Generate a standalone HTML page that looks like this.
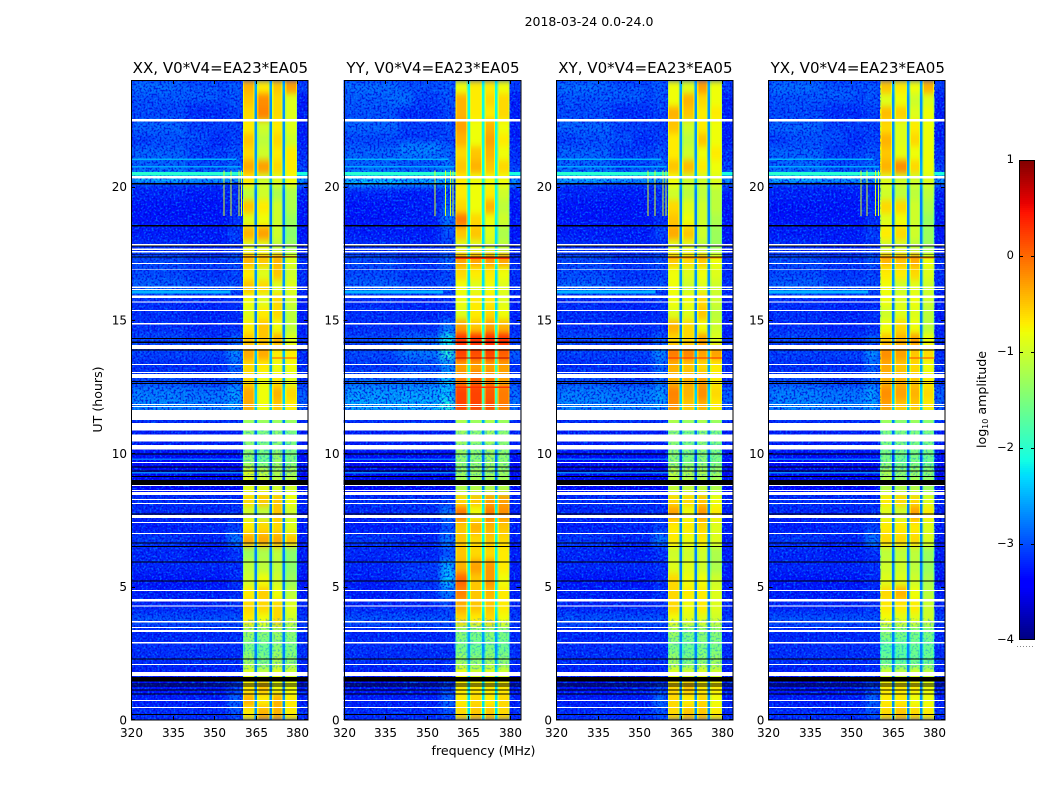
<!DOCTYPE html>
<html lang="en">
<head>
<meta charset="utf-8">
<title>2018-03-24 dynamic spectra</title>
<style>
html,body{margin:0;padding:0;background:#fff;}
#stage{display:block;width:1050px;height:800px;}
text{font-family:"DejaVu Sans","Liberation Sans",sans-serif;fill:#000;}
</style>
</head>
<body>
<svg id="stage" xmlns="http://www.w3.org/2000/svg" width="1050" height="800" viewBox="0 0 1050 800">
<defs>
<filter id="bg-smooth" x="-5%" y="-5%" width="110%" height="110%" color-interpolation-filters="sRGB">
<feGaussianBlur stdDeviation="3 3.2"/>
</filter>
<filter id="cell-smooth" x="-2%" y="-2%" width="104%" height="104%" color-interpolation-filters="sRGB">
<feGaussianBlur stdDeviation="0 3.2"/>
</filter>
<filter id="speckle-dark" x="0" y="0" width="100%" height="100%" color-interpolation-filters="sRGB">
<feTurbulence type="fractalNoise" baseFrequency="0.5" numOctaves="1" seed="4"/>
<feColorMatrix type="matrix" values="0 0 0 0 0  0 0 0 0 0  0 0 0 0 0.84  5 0 0 0 -2.3"/>
</filter>
<filter id="speckle-light" x="0" y="0" width="100%" height="100%" color-interpolation-filters="sRGB">
<feTurbulence type="fractalNoise" baseFrequency="0.5" numOctaves="1" seed="11"/>
<feColorMatrix type="matrix" values="0 0 0 0 0  0 0 0 0 0.5  0 0 0 0 1  5 0 0 0 -2.4"/>
</filter>
</defs>
<text x="589" y="26" font-size="12.5" text-anchor="middle">2018-03-24 0.0-24.0</text>
<text x="483.5" y="755" font-size="12.6" text-anchor="middle">frequency (MHz)</text>
<text x="0" y="0" font-size="12.6" text-anchor="middle" transform="translate(102,399.5) rotate(-90)">UT (hours)</text>
<text x="0" y="0" font-size="12.6" text-anchor="middle" transform="translate(986,399.5) rotate(-90)">log<tspan font-size="8" dy="2">10</tspan><tspan dy="-2"> amplitude</tspan></text>
<g id="panels"></g>
<g id="colorbar"></g>
</svg>
<script>
// ---------- axis tick labels ----------
const freqTicks = [320, 335, 350, 365, 380];
const utTicks = [0, 5, 10, 15, 20];
const cbarTicks = [1, 0, -1, -2, -3, -4];
// frequency bin edges (MHz): bg-left, bg-mid, bg-edge, band1, gap1, band2, gap2, band3, gap3, band4, bg-right
const freqEdges = [320, 340, 355, 360.4, 364.7, 365.6, 370.1, 371, 374.8, 375.7, 380, 384];
const timeBinHours = 0.5;
// band roll-off next to the gaps
const bandEdgeMHz = 0.45;
const bandEdgeDrop = 0.3;
// level calibration applied to background cells and gaps
const BG_OFFSET = -0.15;

// ---------- log10 amplitude per time bin, top row = 23.5-24 h ----------
// band levels [band1, band2, band3, band4]
const bandsXX = [
[-0.4,-0.7,-0.5,-0.3],[-0.5,-0.2,-0.6,-0.9],[-0.6,-0.15,-0.6,-0.9],[-0.7,-1.0,-0.7,-0.9],
[-0.5,-1.1,-0.6,-1.0],[-0.6,-1.0,-0.7,-0.7],[-0.35,-0.3,-0.6,-0.7],[-0.7,-1.0,-0.9,-0.8],
[-1.1,-1.0,-1.2,-1.2],[-0.5,-0.7,-1.0,-1.2],[-0.9,-0.8,-1.0,-1.3],[-0.4,-0.3,-1.0,-1.4],
[-0.9,-0.9,-1.1,-1.3],[-0.4,-0.5,-0.4,-0.9],[-0.7,-0.9,-0.5,-1.0],[-0.5,-0.6,-0.9,-0.9],
[-0.8,-0.9,-0.6,-1.0],[-0.9,-0.7,-0.6,-1.1],[-0.7,-0.5,-0.8,-1.1],[-0.5,-0.5,-0.4,-0.9],
[-0.35,-0.35,-0.7,-0.7],[-0.6,-0.7,-0.8,-0.8],[-0.6,-0.8,-0.7,-0.9],[-0.35,-0.8,-0.4,-0.6],
[-0.35,-0.8,-0.5,-0.7],[-1.3,-1.3,-1.3,-1.3],[-1.4,-1.5,-1.4,-1.5],[-1.4,-1.5,-1.4,-1.5],
[-1.4,-1.6,-1.3,-1.5],[-0.9,-1.1,-1.2,-1.2],[-0.9,-0.9,-1.0,-1.0],[-0.6,-0.5,-0.5,-0.8],
[-1.0,-1.1,-0.5,-1.0],[-0.7,-0.6,-0.6,-0.9],[-0.35,-0.35,-0.35,-0.5],[-1.3,-1.2,-1.1,-1.4],
[-1.1,-1.1,-1.1,-1.4],[-1.0,-0.8,-1.0,-1.3],[-0.7,-0.55,-0.8,-1.1],[-0.6,-0.6,-0.6,-0.9],
[-0.7,-0.8,-0.6,-1.0],[-1.3,-1.4,-1.3,-1.4],[-1.5,-1.6,-1.4,-1.5],[-1.3,-1.5,-1.2,-1.4],
[-0.9,-1.1,-0.9,-1.0],[-0.7,-0.5,-0.8,-0.8],[-0.4,-0.7,-0.4,-0.7],[-0.7,-0.4,-0.4,-0.7]
];
const bandsYY = [
[-0.8,-0.7,-0.7,-0.8],[-0.4,-0.7,-0.6,-0.6],[-0.4,-0.7,-0.7,-0.6],[-0.3,-0.8,-0.4,-0.8],
[-0.4,-0.8,-0.3,-0.7],[-0.6,-0.5,-0.4,-0.8],[-0.5,-0.4,-0.5,-0.6],[-0.7,-0.8,-0.8,-0.8],
[-0.7,-0.8,-0.7,-1.0],[-0.6,-0.8,-0.4,-1.1],[-0.1,-0.6,-0.8,-1.0],[-0.5,-0.5,-0.9,-1.2],
[-0.9,-0.9,-1.0,-1.1],[-0.3,-0.3,-0.25,-0.3],[-0.6,-0.7,-0.7,-0.8],[-0.8,-0.9,-0.8,-0.9],
[-0.8,-0.7,-0.7,-0.9],[-0.9,-0.7,-0.6,-0.8],[-0.3,-0.5,-0.3,-0.4],[0.3,0.3,0.35,0.3],
[0.2,0.15,0.2,0.05],[-0.3,-0.3,-0.3,-0.3],[-0.1,0.05,-0.1,-0.3],[0.2,0.2,0.1,-0.1],
[0.2,0.2,0.15,-0.1],[-1.2,-1.3,-1.2,-1.3],[-1.3,-1.4,-1.3,-1.4],[-1.3,-1.4,-1.3,-1.4],
[-1.4,-1.4,-1.3,-1.4],[-1.3,-1.3,-1.3,-1.3],[-1.2,-1.2,-1.2,-1.2],[-0.6,-0.5,-0.3,-0.3],
[-0.1,-0.8,-0.1,-0.2],[-0.5,-0.4,-0.4,-0.5],[-0.5,-0.6,-0.5,-0.6],[-0.5,-0.6,-0.6,-0.7],
[-0.4,-0.3,-0.25,-0.7],[0.0,-0.5,-0.25,-0.8],[-0.15,-0.5,-0.4,-0.7],[-0.4,-0.5,-0.5,-0.7],
[-0.6,-0.7,-0.6,-0.8],[-1.4,-1.5,-1.4,-1.5],[-1.5,-1.6,-1.5,-1.6],[-1.3,-1.4,-1.3,-1.4],
[-0.8,-1.0,-0.9,-1.0],[-0.7,-0.7,-0.7,-0.7],[-0.7,-0.6,-0.7,-0.6],[-0.6,-0.5,-0.5,-0.6]
];
const bandsXY = [
[-0.8,-0.9,-0.3,-0.8],[-0.8,-0.4,-0.6,-0.8],[-0.4,-0.5,-0.7,-0.7],[-0.5,-1.0,-0.7,-0.8],
[-0.7,-1.1,-0.5,-0.8],[-0.7,-1.0,-0.8,-0.7],[-0.5,-0.45,-0.7,-0.8],[-0.8,-1.0,-1.0,-0.9],
[-1.0,-1.1,-1.1,-1.1],[-0.6,-0.9,-1.0,-1.1],[-0.5,-0.8,-1.0,-1.2],[-0.35,-0.5,-1.0,-1.3],
[-0.9,-0.9,-1.1,-1.3],[-0.5,-0.6,-0.5,-0.8],[-0.8,-0.9,-0.8,-0.9],[-0.8,-1.0,-0.9,-1.0],
[-0.8,-0.8,-0.6,-1.0],[-0.9,-0.9,-0.5,-1.1],[-0.4,-0.6,-0.8,-1.0],[-0.6,-0.6,-0.3,-0.9],
[-0.1,-0.15,-0.3,-0.3],[-0.4,-0.5,-0.6,-0.7],[-0.4,-0.4,-0.3,-0.7],[-0.15,-0.4,-0.2,-0.6],
[-0.2,-0.5,-0.4,-0.7],[-1.2,-1.3,-1.2,-1.3],[-1.4,-1.5,-1.4,-1.5],[-1.4,-1.5,-1.4,-1.5],
[-1.4,-1.5,-1.4,-1.5],[-1.1,-1.2,-1.2,-1.3],[-1.1,-1.1,-1.1,-1.2],[-0.6,-0.6,-0.5,-0.8],
[-0.3,-0.8,-0.25,-0.7],[-0.7,-0.7,-0.6,-0.9],[-0.7,-0.8,-0.7,-0.9],[-1.0,-1.0,-1.0,-1.2],
[-0.9,-0.9,-1.0,-1.2],[-0.6,-0.8,-0.8,-1.0],[-0.6,-0.7,-0.7,-0.9],[-0.6,-0.8,-0.7,-0.9],
[-0.8,-0.9,-0.9,-1.0],[-1.3,-1.5,-1.4,-1.4],[-1.5,-1.6,-1.5,-1.5],[-1.3,-1.5,-1.4,-1.3],
[-0.9,-1.0,-0.9,-1.0],[-0.6,-0.5,-0.7,-0.7],[-0.6,-0.7,-0.6,-0.8],[-0.6,-0.5,-0.5,-0.7]
];
const bandsYX = [
[-0.5,-0.7,-0.8,-0.4],[-0.9,-0.8,-1.0,-0.9],[-0.45,-0.55,-0.9,-0.8],[-0.6,-0.9,-0.7,-0.8],
[-0.4,-0.9,-0.6,-0.8],[-0.5,-0.85,-0.8,-0.8],[-0.4,-0.2,-0.6,-0.8],[-0.9,-1.0,-1.0,-0.9],
[-1.0,-1.1,-1.1,-1.1],[-0.6,-0.6,-1.0,-1.2],[-0.9,-0.8,-1.0,-1.3],[-0.7,-0.6,-1.0,-1.3],
[-1.0,-1.0,-1.1,-1.3],[-0.4,-0.45,-0.35,-0.8],[-0.7,-0.7,-0.6,-0.9],[-0.8,-1.0,-0.9,-1.0],
[-0.8,-0.9,-0.8,-1.0],[-1.0,-0.9,-0.9,-1.1],[-0.8,-0.6,-0.8,-1.1],[-0.5,-0.4,-0.3,-0.8],
[-0.2,-0.3,-0.5,-0.6],[-0.35,-0.5,-0.6,-0.8],[-0.4,-0.4,-0.5,-0.7],[-0.2,-0.3,-0.4,-0.6],
[-0.3,-0.5,-0.5,-0.7],[-1.3,-1.4,-1.3,-1.4],[-1.5,-1.5,-1.5,-1.5],[-1.5,-1.5,-1.5,-1.5],
[-1.5,-1.6,-1.5,-1.6],[-1.2,-1.4,-1.3,-1.4],[-1.2,-1.2,-1.2,-1.3],[-0.7,-0.6,-0.6,-0.9],
[-0.9,-1.0,-0.3,-0.7],[-0.7,-0.7,-0.7,-0.9],[-0.6,-0.6,-0.6,-0.9],[-1.1,-1.1,-1.1,-1.3],
[-1.0,-1.0,-1.1,-1.3],[-0.9,-0.9,-1.0,-1.2],[-0.6,-0.4,-0.8,-1.1],[-0.7,-0.7,-0.7,-1.0],
[-0.8,-0.9,-0.9,-1.0],[-1.4,-1.5,-1.5,-1.5],[-1.7,-1.7,-1.6,-1.6],[-1.6,-1.7,-1.6,-1.6],
[-1.0,-1.1,-1.0,-1.1],[-0.7,-0.7,-0.7,-0.8],[-0.7,-0.7,-0.8,-0.8],[-0.6,-0.5,-0.6,-0.7]
];
// background levels [left, mid, edge, right, gap]
const bgCommon = [
[-2.65,-2.85,-2.75,-2.9,-2.4],[-2.8,-2.9,-2.8,-3.1,-2.5],[-2.85,-3.0,-2.9,-3.1,-2.5],[-2.7,-2.9,-2.9,-3.1,-2.5],
[-2.9,-3.0,-2.9,-3.1,-2.5],[-2.7,-2.9,-2.8,-3.0,-2.5],[-2.7,-2.85,-2.7,-2.9,-2.4],[-2.2,-2.3,-2.3,-2.4,-2.3],
[-3.05,-3.1,-3.0,-3.1,-2.6],[-3.15,-3.15,-3.05,-3.15,-2.6],[-3.15,-3.15,-3.0,-3.15,-2.6],[-3.1,-3.1,-2.9,-3.15,-2.6],
[-3.0,-3.1,-3.0,-3.1,-2.6],[-2.85,-2.95,-2.8,-3.0,-2.5],[-2.85,-2.95,-2.9,-3.0,-2.5],[-2.7,-2.85,-2.8,-3.0,-2.5],
[-3.0,-3.05,-3.0,-3.1,-2.6],[-3.0,-3.05,-3.0,-3.1,-2.6],[-3.0,-3.05,-3.0,-3.1,-2.6],[-2.85,-2.95,-2.75,-3.0,-2.5],
[-2.9,-2.9,-2.5,-3.0,-2.3],[-3.0,-3.0,-2.7,-3.0,-2.4],[-2.85,-2.95,-2.7,-3.0,-2.4],[-2.55,-2.6,-2.4,-2.7,-2.2],
[-2.5,-2.55,-2.4,-2.7,-2.2],[-3.0,-3.0,-3.0,-3.0,-2.6],[-3.1,-3.1,-3.1,-3.1,-2.7],[-3.1,-3.1,-3.1,-3.1,-2.7],
[-3.2,-3.2,-3.2,-3.2,-2.9],[-3.35,-3.35,-3.35,-3.35,-2.9],[-3.3,-3.3,-3.3,-3.3,-2.9],[-3.0,-3.0,-3.0,-3.05,-2.6],
[-3.05,-3.05,-3.0,-3.1,-2.6],[-3.1,-3.05,-2.9,-3.1,-2.6],[-2.95,-3.05,-2.6,-3.1,-2.5],[-3.05,-3.1,-3.0,-3.1,-2.6],
[-3.05,-3.05,-3.0,-3.1,-2.6],[-3.15,-3.15,-3.05,-3.15,-2.6],[-3.1,-3.1,-3.0,-3.1,-2.6],[-3.05,-3.05,-3.0,-3.05,-2.6],
[-2.8,-2.8,-2.8,-2.9,-2.5],[-3.05,-3.05,-3.0,-3.05,-2.6],[-3.0,-3.0,-3.0,-3.0,-2.6],[-3.0,-3.0,-3.0,-3.0,-2.6],
[-3.1,-3.1,-3.05,-3.1,-2.6],[-3.15,-3.1,-2.9,-3.1,-2.6],[-3.1,-3.1,-2.7,-3.1,-2.5],[-3.0,-3.0,-2.8,-3.0,-2.5]
];
const bgYY = [
[-2.65,-2.8,-2.75,-2.9,-2.0],[-2.75,-2.9,-2.8,-3.1,-2.0],[-2.8,-3.0,-2.9,-3.1,-2.0],[-2.7,-2.9,-2.85,-3.1,-2.0],
[-2.85,-2.95,-2.85,-3.1,-2.0],[-2.7,-2.7,-2.7,-3.0,-2.0],[-2.7,-2.8,-2.6,-2.9,-2.0],[-2.2,-2.3,-2.3,-2.4,-1.9],
[-3.05,-3.1,-2.9,-3.1,-2.0],[-3.15,-3.1,-2.7,-3.15,-2.0],[-3.15,-3.1,-2.6,-3.15,-2.0],[-3.1,-3.1,-2.8,-3.15,-2.1],
[-3.0,-3.05,-2.9,-3.1,-2.1],[-2.85,-2.95,-2.7,-3.0,-2.0],[-2.85,-2.95,-2.85,-3.0,-2.1],[-2.7,-2.85,-2.8,-3.0,-2.1],
[-3.0,-3.05,-3.0,-3.1,-2.1],[-3.0,-3.05,-3.0,-3.1,-2.1],[-3.0,-3.0,-2.6,-3.0,-1.9],[-2.85,-2.7,-2.0,-2.9,-1.7],
[-2.85,-2.6,-1.9,-2.7,-1.7],[-2.95,-2.85,-2.5,-3.0,-1.8],[-2.7,-2.7,-2.4,-2.85,-1.8],[-2.4,-2.35,-2.0,-2.6,-1.7],
[-2.35,-2.3,-1.9,-2.55,-1.7],[-3.0,-3.0,-3.0,-3.0,-2.4],[-3.1,-3.1,-3.1,-3.1,-2.5],[-3.1,-3.1,-3.1,-3.1,-2.5],
[-3.2,-3.2,-3.2,-3.2,-2.7],[-3.35,-3.35,-3.35,-3.35,-2.7],[-3.3,-3.3,-3.3,-3.3,-2.6],[-3.0,-3.0,-2.9,-3.05,-2.1],
[-3.05,-3.0,-2.6,-3.1,-2.0],[-3.1,-3.05,-2.8,-3.1,-2.0],[-2.95,-3.05,-2.6,-3.1,-2.0],[-3.05,-3.05,-2.8,-3.1,-2.0],
[-3.05,-2.95,-2.3,-3.1,-2.0],[-3.1,-2.95,-2.2,-3.15,-2.0],[-3.1,-3.0,-2.6,-3.1,-2.0],[-3.05,-3.05,-2.9,-3.05,-2.0],
[-2.8,-2.8,-2.8,-2.9,-2.1],[-3.05,-3.05,-3.0,-3.05,-2.4],[-3.0,-3.0,-3.0,-3.0,-2.5],[-3.0,-3.0,-3.0,-3.0,-2.4],
[-3.1,-3.1,-3.05,-3.1,-2.1],[-3.15,-3.1,-2.9,-3.1,-2.1],[-3.1,-3.1,-2.7,-3.1,-2.1],[-3.0,-3.0,-2.8,-3.0,-2.1]
];

// flagged (blank) and zeroed (black) time ranges [start UT, end UT]
const whiteFlags = [[22.44,22.54],[20.31,20.4],[17.8,17.85],[17.63,17.68],[17.53,17.58],[17.1,17.14],[16.87,16.9],[16.2,16.25],[16.13,16.16],[15.83,15.92],[15.66,15.7],[15.34,15.38],[14.83,14.88],[13.92,14.07],[13.31,13.35],[13.02,13.05],[12.83,12.98],[11.81,11.85],[11.73,11.77],[11.25,11.62],[10.85,11.13],[10.44,10.71],[10.15,10.31],[9.64,9.68],[8.78,8.81],[8.58,8.62],[8.44,8.55],[8.25,8.29],[8.1,8.14],[7.58,7.69],[7.39,7.42],[6.98,7.01],[4.84,4.88],[4.45,4.54],[4.25,4.29],[3.66,3.71],[3.45,3.49],[3.3,3.38],[2.87,2.92],[2.06,2.1],[1.65,1.8],[0.71,0.75],[0.45,0.49]];
const blackFlags = [[20.09,20.14],[18.51,18.56],[17.75,17.8],[17.45,17.48],[17.34,17.38],[14.28,14.33],[14.14,14.19],[13.85,13.89],[12.67,12.72],[12.6,12.64],[9.95,10.0],[9.47,9.51],[9.32,9.36],[9.11,9.15],[8.82,9.0],[7.7,7.74],[6.62,6.66],[6.48,6.52],[5.9,5.94],[5.2,5.23],[2.27,2.31],[1.44,1.62],[1.33,1.37],[1.26,1.29],[1.1,1.14],[0.95,0.99],[0.18,0.22]];
// broad background features [ut0, ut1, f0, f1, level]
const patchesCommon = [[23.2,23.75,335,352,-2.75],[21.6,22.0,328,348,-2.8],[19.9,20.12,320,360.4,-3.1]];
const patchesYY = [[23.0,23.6,336,345,-2.65],[21.1,21.7,340,355,-2.55],[12.0,13.0,355,360.4,-2.2]];
// narrow horizontal streaks [ut0, ut1, f0, f1, level]
const streaksCommon = [[21.0,21.05,320,358,-2.5],[20.72,20.77,320,360,-2.55],[20.42,20.55,320,360.4,-2.0],[20.42,20.55,380,384,-2.1],[16.0,16.1,320,356,-2.5],[9.75,9.8,320,360.4,-2.8],[9.25,9.3,320,360.4,-2.7]];
const streaksXX = [[13.55,13.6,370.9,380,0.1],[17.35,17.4,360.4,380,-0.1]];
const streaksYY = [[13.55,13.6,360.4,380,0.75],[17.28,17.35,360.4,380,0.3],[12.45,12.5,360.4,380,0.3]];
const streaksXY = [[13.55,13.6,360.4,380,0.35],[17.3,17.35,360.4,380,-0.1]];
const streaksYX = [[13.55,13.6,370.9,380,0.2],[17.3,17.35,360.4,380,-0.1]];
// vertical interference lines near 19-20.5 h [MHz]
const rfiXX = [353.5, 355.9, 358.8, 359.7];
const rfiYY = [352.9, 356.6, 358.5, 359.4];
const rfiXY = [353.1, 355.6, 358.5, 359.6];
const rfiYX = [353.2, 355.4, 358.6, 359.6];
const rfiSpan = [18.9, 20.6];
const rfiLevel = -0.95;
// time ranges where the noise reaches into the bands
const noisyRanges = [[1.9,3.8],[9.1,11.1]];

// ---------- scales ----------
const PLOT_TOP = 80, PLOT_BOTTOM = 720, PLOT_W = 176.8;
const PX_PER_MHZ = 2.767;
const UT_MAX = 24;
const BG_COLS = [0, 1, 2, 10];
const BAND_COLS = [3, 5, 7, 9];
function yScale(ut){ return PLOT_BOTTOM - (ut / UT_MAX) * (PLOT_BOTTOM - PLOT_TOP); }
function xScale(left, f){ return left + (f - 320) * PX_PER_MHZ; }
function lerp(t, pts){
  if (t <= pts[0][0]) return pts[0][1];
  for (let i = 1; i < pts.length; i++) {
    if (t <= pts[i][0]) {
      const a = pts[i-1], b = pts[i];
      return a[1] + (b[1] - a[1]) * (t - a[0]) / (b[0] - a[0]);
    }
  }
  return pts[pts.length-1][1];
}
function colorScale(v){
  const t = (v + 4) / 5;
  const r = lerp(t, [[0,0],[0.35,0],[0.66,1],[0.89,1],[1,0.5]]);
  const g = lerp(t, [[0,0],[0.125,0],[0.375,1],[0.64,1],[0.91,0],[1,0]]);
  const b = lerp(t, [[0,0.5],[0.11,1],[0.34,1],[0.65,0],[1,0]]);
  return 'rgb(' + Math.round(r*255) + ',' + Math.round(g*255) + ',' + Math.round(b*255) + ')';
}
const NS = 'http://www.w3.org/2000/svg';
function svgEl(tag, attrs, parent){
  const el = document.createElementNS(NS, tag);
  for (const k in attrs) el.setAttribute(k, attrs[k]);
  parent.appendChild(el);
  return el;
}
function rowColumns(bg, bands){
  return [bg[0], bg[1], bg[2], bands[0], bg[4], bands[1], bg[4], bands[2], bg[4], bands[3], bg[3]];
}

// ---------- panels ----------
const panelDefs = [
  {key:'xx', title:'XX, V0*V4=EA23*EA05', left:131,   bands:bandsXX, bg:bgCommon, rfi:rfiXX, patches:patchesCommon, streaks:streaksXX},
  {key:'yy', title:'YY, V0*V4=EA23*EA05', left:343.6, bands:bandsYY, bg:bgYY,     rfi:rfiYY, patches:patchesYY,     streaks:streaksYY},
  {key:'xy', title:'XY, V0*V4=EA23*EA05', left:556,   bands:bandsXY, bg:bgCommon, rfi:rfiXY, patches:patchesCommon, streaks:streaksXY},
  {key:'yx', title:'YX, V0*V4=EA23*EA05', left:768.4, bands:bandsYX, bg:bgCommon, rfi:rfiYX, patches:patchesCommon, streaks:streaksYX}
];
const panelsRoot = document.getElementById('panels');
const defsEl = document.querySelector('defs');

panelDefs.forEach(function(p){
  const g = svgEl('g', {}, panelsRoot);
  
  

  const clip = svgEl('clipPath', {id:'clip-' + p.key}, defsEl);
  svgEl('rect', {x:p.left, y:PLOT_TOP, width:PLOT_W, height:PLOT_BOTTOM-PLOT_TOP}, clip);

  const plot = svgEl('g', {'clip-path':'url(#clip-' + p.key + ')'}, g);
  
  

  const base = svgEl('rect', {x:p.left, y:PLOT_TOP, width:PLOT_W, height:PLOT_BOTTOM-PLOT_TOP, fill:colorScale(-3.05 + BG_OFFSET)}, plot);
  
  

  const bgCells = svgEl('g', {filter:'url(#bg-smooth)', 'shape-rendering':'crispEdges'}, plot);
  
  

  const cells = svgEl('g', {filter:'url(#cell-smooth)', 'shape-rendering':'crispEdges'}, plot);
  
  

  p.bands.forEach(function(bandRow, i){
    const ut1 = UT_MAX - i * timeBinHours;
    const ut0 = ut1 - timeBinHours;
    const y = yScale(ut1);
    const h = yScale(ut0) - yScale(ut1) + 0.5;
    const values = rowColumns(p.bg[i], bandRow);
    values.forEach(function(v, c){
      const x0 = xScale(p.left, freqEdges[c]);
      const x1 = xScale(p.left, freqEdges[c+1]);
      const isBg = BG_COLS.indexOf(c) >= 0;
      const isBand = BAND_COLS.indexOf(c) >= 0;
      const level = isBand ? v : v + BG_OFFSET;
      const cell = svgEl('rect', {x:x0, y:y, width:x1-x0, height:h, fill:colorScale(level)}, isBg ? bgCells : cells);
      
      
      if (isBand) {
        const edgeW = bandEdgeMHz * PX_PER_MHZ;
        const edgeL = svgEl('rect', {x:x0, y:y, width:edgeW, height:h, fill:colorScale(v - bandEdgeDrop)}, cells);
        
        
        const edgeR = svgEl('rect', {x:x1-edgeW, y:y, width:edgeW, height:h, fill:colorScale(v - bandEdgeDrop)}, cells);
        
        
      }
    });
  });
  p.patches.forEach(function(s){
    const yA = yScale(Math.max(s[0], s[1])), yB = yScale(Math.min(s[0], s[1]));
    const patch = svgEl('rect', {x:xScale(p.left, s[2]), y:yA, width:xScale(p.left, s[3])-xScale(p.left, s[2]), height:yB-yA, fill:colorScale(s[4] + BG_OFFSET)}, bgCells);
    
    
  });

  // pixel-scale speckle texture
  const bandStart = xScale(p.left, freqEdges[3]);
  const bandEnd = xScale(p.left, freqEdges[10]);
  [[p.left, bandStart - p.left], [bandEnd, p.left + PLOT_W - bandEnd]].forEach(function(r){
    const light = svgEl('rect', {x:r[0], y:PLOT_TOP, width:r[1], height:PLOT_BOTTOM-PLOT_TOP, filter:'url(#speckle-light)', opacity:0.65}, plot);
    
    
    const dark = svgEl('rect', {x:r[0], y:PLOT_TOP, width:r[1], height:PLOT_BOTTOM-PLOT_TOP, filter:'url(#speckle-dark)', opacity:0.7}, plot);
    
    
  });
  noisyRanges.forEach(function(r){
    const noisy = svgEl('rect', {x:bandStart, y:yScale(r[1]), width:bandEnd-bandStart, height:yScale(r[0])-yScale(r[1]), filter:'url(#speckle-light)', opacity:0.4}, plot);
    
    
  });

  streaksCommon.concat(p.streaks).forEach(function(s){
    const streak = svgEl('rect', {x:xScale(p.left, s[2]), y:yScale(s[1]), width:xScale(p.left, s[3])-xScale(p.left, s[2]), height:yScale(s[0])-yScale(s[1]), fill:colorScale(s[4]), 'shape-rendering':'crispEdges'}, plot);
    
    
  });

  p.rfi.forEach(function(f){
    const line = svgEl('rect', {x:xScale(p.left, f), y:yScale(rfiSpan[1]), width:1, height:yScale(rfiSpan[0])-yScale(rfiSpan[1]), fill:colorScale(rfiLevel), 'shape-rendering':'crispEdges'}, plot);
    
    
  });

  whiteFlags.forEach(function(r){
    const flag = svgEl('rect', {x:p.left, y:yScale(r[1]), width:PLOT_W, height:yScale(r[0])-yScale(r[1]), fill:'#fff', 'shape-rendering':'crispEdges'}, plot);
    
    
  });
  blackFlags.forEach(function(r){
    const flag = svgEl('rect', {x:p.left, y:yScale(r[1]), width:PLOT_W, height:yScale(r[0])-yScale(r[1]), fill:'#000', 'shape-rendering':'crispEdges'}, plot);
    
    
  });

  const frame = svgEl('rect', {x:Math.round(p.left)+0.5, y:PLOT_TOP+0.5, width:Math.round(PLOT_W)-1+0.5, height:PLOT_BOTTOM-PLOT_TOP-1+0.5, fill:'none', stroke:'#000', 'stroke-width':1, 'shape-rendering':'crispEdges'}, g);
  
  

  const title = svgEl('text', {x:p.left + PLOT_W/2 + 1, y:73, 'font-size':15.05, 'text-anchor':'middle'}, g);
  title.textContent = p.title;
  
  

  freqTicks.forEach(function(t){
    const x = Math.round(xScale(p.left, t)) + 0.5;
    const tickB = svgEl('line', {x1:x, x2:x, y1:PLOT_BOTTOM, y2:PLOT_BOTTOM-4, stroke:'#000', 'shape-rendering':'crispEdges'}, g);
    
    
    const tickT = svgEl('line', {x1:x, x2:x, y1:PLOT_TOP, y2:PLOT_TOP+4, stroke:'#000', 'shape-rendering':'crispEdges'}, g);
    
    
    const label = svgEl('text', {x:x, y:737, 'font-size':12, 'text-anchor':'middle'}, g);
    label.textContent = String(t);
    
    
  });
  utTicks.forEach(function(t){
    const y = Math.round(yScale(t)) + (t === 0 ? -0.5 : 0.5);
    const tickL = svgEl('line', {x1:p.left, x2:p.left+4, y1:y, y2:y, stroke:'#000', 'shape-rendering':'crispEdges'}, g);
    
    
    const tickR = svgEl('line', {x1:p.left+PLOT_W-4, x2:p.left+PLOT_W, y1:y, y2:y, stroke:'#000', 'shape-rendering':'crispEdges'}, g);
    
    
    const label = svgEl('text', {x:p.left-4, y:yScale(t)+4.5, 'font-size':12, 'text-anchor':'end'}, g);
    label.textContent = String(t);
    
    
  });
});

// ---------- colorbar ----------
const CB_X = 1019, CB_W = 16, CB_TOP = 160, CB_BOTTOM = 640;
function cbY(v){ return CB_TOP + (1 - v) / 5 * (CB_BOTTOM - CB_TOP); }
const cbRoot = document.getElementById('colorbar');
for (let py = CB_TOP; py < CB_BOTTOM; py += 2) {
  const v = 1 - (py - CB_TOP + 1) / (CB_BOTTOM - CB_TOP) * 5;
  const seg = svgEl('rect', {x:CB_X, y:py, width:CB_W, height:2, fill:colorScale(v), 'shape-rendering':'crispEdges'}, cbRoot);
  
  
}
const cbFrame = svgEl('rect', {x:CB_X+0.5, y:CB_TOP+0.5, width:CB_W-1, height:CB_BOTTOM-CB_TOP-1, fill:'none', stroke:'#000', 'shape-rendering':'crispEdges'}, cbRoot);


cbarTicks.forEach(function(t){
  const y = Math.round(cbY(t)) + (t === -4 ? -0.5 : 0.5);
  const tickL = svgEl('line', {x1:CB_X, x2:CB_X+4, y1:y, y2:y, stroke:'#000', 'shape-rendering':'crispEdges'}, cbRoot);
  
  
  const tickR = svgEl('line', {x1:CB_X+CB_W-4, x2:CB_X+CB_W, y1:y, y2:y, stroke:'#000', 'shape-rendering':'crispEdges'}, cbRoot);
  
  
  const label = svgEl('text', {x:1014, y:cbY(t)+3, 'font-size':11.5, 'text-anchor':'end'}, cbRoot);
  label.textContent = t < 0 ? '\u2212' + Math.abs(t) : String(t);
  
  
});
const cbDots = svgEl('line', {x1:1017, x2:1035, y1:646.5, y2:646.5, stroke:'#888', 'stroke-dasharray':'1 2', 'shape-rendering':'crispEdges'}, cbRoot);


</script>
</body>
</html>
